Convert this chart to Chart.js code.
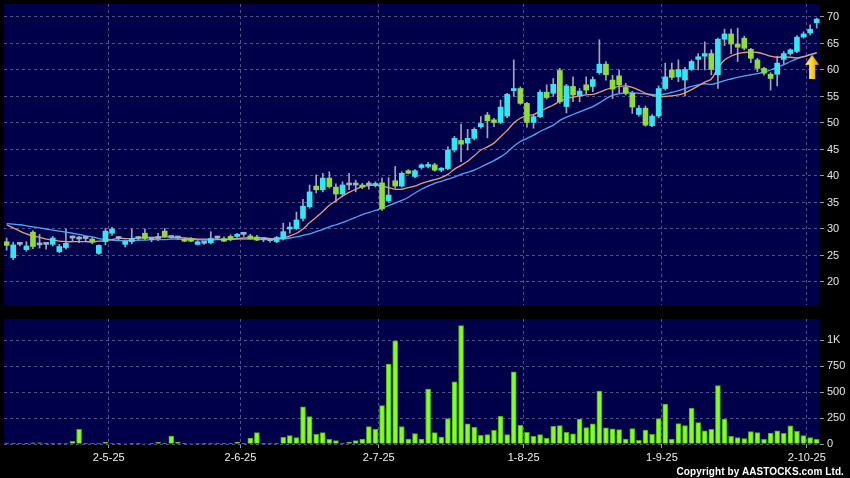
<!DOCTYPE html>
<html lang="en">
<head>
  <meta charset="UTF-8">
  <title>Daily chart</title>
  <script src="https://cdn.jsdelivr.net/npm/chart.js"></script>
  <style>
    html, body { margin: 0; padding: 0; background: #000; }
    #wrap { position: relative; width: 850px; height: 478px; background: #000; overflow: hidden; }
    #priceChart { position: absolute; left: 0; top: 0; }
    #volChart { position: absolute; left: 0; top: 310px; }
    #copy { position: absolute; right: 6px; bottom: 1px; color: #fff; font: bold 10px 'Liberation Sans', Arial, sans-serif; letter-spacing: 0.1px; }
  </style>
</head>
<body>
<div id="wrap">
  <canvas id="priceChart" width="850" height="310"></canvas>
  <canvas id="volChart" width="850" height="168"></canvas>
  <div id="copy">Copyright by AASTOCKS.com Ltd.</div>
</div>

<script>
  // one entry per trading day, oldest first
  const openP = [27.6,24.6,27.1,26.1,29.4,27.0,27.1,27.1,25.7,26.5,
    28.3,28.1,28.2,28.1,25.4,27.6,29.2,28.2,27.1,27.6,
    28.2,29.2,28.0,28.2,29.6,28.4,28.3,28.0,28.2,27.1,
    27.3,27.4,28.3,28.2,28.6,28.6,29.0,28.7,28.5,28.0,
    27.8,27.6,28.1,30.0,30.1,32.0,34.2,38.1,37.4,39.6,
    37.9,36.6,38.3,38.4,38.3,38.3,38.2,38.7,35.3,39.1,
    38.1,41.0,39.9,41.6,41.8,42.1,41.1,41.4,44.9,46.7,
    46.2,47.1,49.3,51.5,50.6,50.1,51.3,56.1,56.5,53.7,
    50.1,51.2,55.8,55.6,59.9,53.1,56.9,55.2,57.2,56.9,
    59.5,61.1,58.1,58.9,56.7,55.6,51.6,52.8,49.5,51.3,
    56.5,60.0,58.7,58.1,60.1,62.0,62.6,63.1,59.1,65.8,
    66.8,64.9,66.0,63.9,61.9,60.3,59.2,59.2,62.0,63.1,
    63.5,66.2,67.0,68.9];
  const highP = [28.3,27.5,27.4,27.6,29.7,29.0,27.3,28.6,27.1,30.0,
    28.7,28.6,28.6,28.4,27.0,30.1,30.3,28.6,27.9,30.0,
    28.6,30.0,28.3,29.2,30.1,28.6,28.6,28.3,28.4,27.8,
    27.5,29.5,28.6,28.5,28.9,29.2,29.2,29.0,28.8,28.3,
    28.2,28.6,31.1,31.2,33.2,35.6,38.3,40.2,40.5,40.8,
    38.5,38.9,40.5,39.2,38.6,39.0,38.9,39.6,39.7,41.8,
    40.8,41.2,41.2,42.3,42.6,42.4,41.6,45.5,47.5,49.8,
    48.8,49.1,51.2,52.0,50.9,54.3,55.6,61.9,56.8,53.9,
    51.5,56.2,57.2,58.4,60.3,57.3,58.7,56.5,58.7,58.7,
    65.7,61.6,59.0,60.0,57.5,56.0,53.3,53.2,51.6,57.0,
    61.3,61.3,61.9,60.5,61.9,63.1,65.3,63.8,66.0,67.7,
    67.7,67.9,66.4,64.1,62.2,60.5,59.5,62.6,63.5,64.0,
    66.5,67.2,68.5,69.8];
  const lowP = [26.0,24.2,26.8,25.8,26.3,26.4,26.2,26.8,25.5,26.2,
    27.6,27.4,27.8,27.2,25.2,27.0,28.8,27.9,26.6,27.2,
    27.8,28.0,27.6,27.8,28.4,28.2,28.0,27.6,27.6,27.0,
    27.1,27.2,28.0,27.6,27.8,28.4,28.6,28.0,27.8,27.6,
    27.5,27.4,27.9,29.2,29.9,31.5,33.9,36.8,37.0,37.7,
    35.2,36.3,37.4,37.0,37.6,37.5,37.9,33.5,35.0,37.8,
    37.9,40.4,39.7,41.3,41.5,40.9,40.8,41.2,44.5,42.7,
    44.9,46.8,49.0,47.2,49.3,49.9,51.0,55.0,53.5,49.2,
    49.0,51.0,54.5,55.0,53.7,51.9,54.0,54.0,55.5,55.9,
    59.2,58.1,54.6,55.6,55.3,51.8,51.3,49.4,49.3,51.0,
    56.2,58.2,57.8,55.1,59.9,60.0,60.0,59.1,56.5,64.6,
    63.1,61.6,63.8,61.4,59.7,59.0,56.2,57.0,61.2,62.8,
    63.2,66.0,66.6,67.9];
  const closeP = [26.9,27.0,27.1,26.8,26.7,27.0,27.1,28.3,26.7,27.3,
    28.3,28.2,28.2,27.5,26.9,29.6,30.0,28.2,27.7,28.2,
    28.2,28.2,28.0,28.3,28.6,28.4,28.3,27.7,27.7,27.6,
    27.3,28.2,28.3,27.7,28.0,29.0,29.0,28.2,27.9,28.0,
    27.8,28.4,29.5,30.2,31.7,34.3,37.0,37.4,39.6,38.0,
    36.6,38.3,38.4,38.3,37.9,38.3,38.6,33.8,36.4,38.1,
    40.5,40.5,41.0,42.1,42.0,41.1,41.4,44.9,47.1,46.0,
    47.1,48.8,49.9,50.4,50.1,53.0,55.4,56.5,53.7,50.1,
    51.2,55.8,54.8,57.3,54.0,57.0,55.3,56.0,56.2,58.2,
    61.1,59.1,56.4,57.2,55.6,53.0,52.8,49.6,51.3,56.5,
    58.7,58.6,60.1,60.1,61.6,62.5,63.1,60.1,65.8,66.8,
    64.9,64.3,64.1,62.2,60.3,59.4,58.4,61.3,63.1,63.8,
    66.2,66.8,67.7,69.6];
  const maShort = [30.8,30.2,29.6,29.1,28.7,28.4,28.1,27.9,27.7,27.6,
    27.6,27.6,27.6,27.6,27.7,27.8,28.0,28.2,28.2,28.2,
    28.3,28.4,28.4,28.4,28.5,28.5,28.4,28.3,28.2,28.1,
    28.1,28.1,28.1,28.0,28.1,28.2,28.3,28.3,28.3,28.3,
    28.2,28.2,28.3,28.7,29.2,30.0,31.2,32.2,33.3,34.5,
    35.3,36.2,36.9,37.5,38.0,38.2,38.3,38.1,37.8,37.5,
    37.5,37.8,38.1,38.6,39.0,39.3,39.7,40.3,41.3,42.0,
    42.8,43.8,44.9,45.5,46.2,47.4,48.6,50.0,50.9,51.4,
    51.6,52.2,52.8,53.4,54.1,54.6,54.9,55.1,55.3,55.4,
    55.8,56.3,56.6,56.9,57.0,56.7,56.2,55.6,55.2,55.0,
    55.0,55.1,55.3,55.7,56.3,57.0,57.7,58.3,60.3,61.9,
    62.6,63.1,63.3,63.4,63.3,63.0,62.6,62.4,62.5,62.4,
    62.3,62.5,62.9,63.3];
  const maLong = [31.0,30.9,30.8,30.6,30.4,30.2,30.0,29.8,29.6,29.4,
    29.2,29.0,28.7,28.5,28.2,28.0,27.9,27.8,27.8,27.8,
    27.9,27.9,28.0,28.0,28.0,28.1,28.1,28.0,28.0,28.0,
    27.9,27.9,28.0,28.0,28.0,28.1,28.1,28.1,28.1,28.0,
    28.0,28.1,28.2,28.3,28.5,28.8,29.1,29.5,29.9,30.4,
    30.8,31.2,31.7,32.2,32.7,33.1,33.5,33.9,34.4,34.9,
    35.4,36.0,36.8,37.5,38.1,38.6,39.0,39.4,39.8,40.3,
    40.7,41.1,41.7,42.3,42.9,43.6,44.5,45.6,46.5,47.1,
    47.7,48.4,49.0,49.6,50.5,51.1,51.6,52.1,52.6,53.1,
    53.8,54.6,55.2,55.5,55.7,55.7,55.6,55.5,55.4,55.3,
    55.5,55.8,56.1,56.5,56.9,57.2,57.4,57.3,57.6,58.0,
    58.3,58.6,58.9,59.1,59.3,59.6,60.0,60.5,61.0,61.6,
    62.1,62.5,62.9,63.2];
  const volume = [8,10,3,2,12,12,3,2,3,4,
    25,142,2,1,3,18,4,6,5,3,
    2,5,3,15,3,77,18,3,5,4,
    2,3,2,3,2,18,2,58,109,2,
    1,2,64,80,61,357,264,93,109,45,
    32,10,18,32,48,167,142,370,769,994,
    167,48,100,48,528,109,67,245,599,1140,
    193,161,84,90,132,267,90,695,180,113,
    74,90,55,171,177,113,97,241,158,193,
    509,155,145,138,48,148,35,135,93,245,
    383,45,196,177,344,206,126,142,563,241,
    74,61,51,119,109,45,106,126,103,174,
    122,80,61,45];

  // month ticks sit between the last day of a month and the first of the next
  const tickPos = [15.5, 35.5, 56.5, 78.5, 99.5, 121.5];
  const tickText = ['2-5-25', '2-6-25', '2-7-25', '1-8-25', '1-9-25', '2-10-25'];
  const priceTicks = [20, 25, 30, 35, 40, 45, 50, 55, 60, 65, 70];
  const volTicks = [0, 250, 500, 750, 1000];
  const arrowIndex = 122.3;
  const arrowPrice = 60.6;

  const UP = '#34e6f4', DOWN = '#8fdc3c', FLAT = '#9db3c6', WICK = '#a4a4b4';
  const NAVY = '#00004a';
  const GRID = '#50508a';
  const FONT = { family: "'Liberation Sans', Arial, sans-serif", size: 11 };

  const bgPlugin = {
    id: 'bg',
    beforeDraw(chart) {
      const { ctx, chartArea: a } = chart;
      ctx.save();
      ctx.fillStyle = '#000';
      ctx.fillRect(0, 0, chart.width, chart.height);
      ctx.fillStyle = NAVY;
      ctx.fillRect(a.left, a.top, a.right - a.left, a.bottom - a.top);
      ctx.restore();
    }
  };

  // drop the label-overflow padding chart.js adds, so the plot edges stay put
  function noPad(s) {
    s.paddingLeft = 0; s.paddingRight = 0; s.paddingTop = 0; s.paddingBottom = 0;
  }

  function xScale(showLabels) {
    return {
      type: 'linear', min: -0.4, max: 123.5, offset: false,
      afterBuildTicks: s => { s.ticks = tickPos.map(v => ({ value: v })); },
      afterFit: s => { s.height = showLabels ? 34 : 0; noPad(s); },
      ticks: {
        display: showLabels, autoSkip: false, maxRotation: 0, padding: 3,
        color: '#f0f0f0', font: FONT,
        callback: (v, i) => tickText[i]
      },
      grid: { color: GRID, offset: false, drawTicks: showLabels, tickLength: 4, tickColor: '#9a9a9a' },
      border: { display: false, dash: [3, 3] }
    };
  }

  function yScale(min, max, ticks, fmt) {
    return {
      position: 'right', min: min, max: max,
      afterBuildTicks: s => { s.ticks = ticks.map(v => ({ value: v })); },
      afterFit: s => { s.width = 30; noPad(s); },
      ticks: { color: '#e6e6e6', font: FONT, padding: 3, callback: fmt },
      grid: { color: GRID, tickColor: '#9a9a9a', tickLength: 4 },
      border: { display: false, dash: [3, 3] }
    };
  }

  function makeArrow() {
    const c = document.createElement('canvas');
    c.width = 14; c.height = 24;
    const g = c.getContext('2d');
    const grad = g.createLinearGradient(0, 0, 14, 0);
    grad.addColorStop(0, '#fff48a');
    grad.addColorStop(0.5, '#ffd21a');
    grad.addColorStop(1, '#d48c00');
    g.fillStyle = grad;
    g.beginPath();
    g.moveTo(7, 0); g.lineTo(14, 10); g.lineTo(10, 10); g.lineTo(10, 24);
    g.lineTo(4, 24); g.lineTo(4, 10); g.lineTo(0, 10); g.closePath();
    g.fill();
    return c;
  }

  const idx = openP.map((_, i) => i);
  const bodyColors = idx.map(i => {
    const d = closeP[i] - openP[i];
    if (Math.abs(d) < 0.12) return FLAT;
    return d > 0 ? UP : DOWN;
  });

  new Chart(document.getElementById('priceChart').getContext('2d'), {
    type: 'bar',
    data: {
      datasets: [
        {
          label: 'body', order: 0, grouped: false, barThickness: 5, minBarLength: 2,
          data: idx.map(i => ({ x: i, y: [openP[i], closeP[i]] })),
          backgroundColor: bodyColors
        },
        {
          type: 'line', label: 'MA short', order: 1,
          data: idx.map(i => ({ x: i, y: maShort[i] })),
          borderColor: '#ec9c74', borderWidth: 1.3, pointRadius: 0, tension: 0.3
        },
        {
          type: 'line', label: 'MA long', order: 1,
          data: idx.map(i => ({ x: i, y: maLong[i] })),
          borderColor: '#4aa8f6', borderWidth: 1.3, pointRadius: 0, tension: 0.3
        },
        {
          label: 'wick', order: 2, grouped: false, barThickness: 1,
          data: idx.map(i => ({ x: i, y: [lowP[i], highP[i]] })),
          backgroundColor: WICK
        },
        {
          type: 'line', label: 'last', order: -1, showLine: false,
          data: [{ x: arrowIndex, y: arrowPrice }],
          pointStyle: makeArrow(), pointRadius: 10
        }
      ]
    },
    options: {
      responsive: false, animation: false,
      layout: { autoPadding: false, padding: { left: 4, top: 4, right: 0, bottom: 5 } },
      plugins: { legend: { display: false }, tooltip: { enabled: false } },
      scales: {
        x: xScale(false),
        y: yScale(15.66, 72.45, priceTicks)
      }
    },
    plugins: [bgPlugin]
  });

  new Chart(document.getElementById('volChart').getContext('2d'), {
    type: 'bar',
    data: {
      datasets: [{
        label: 'volume', barThickness: 5,
        data: idx.map(i => ({ x: i, y: volume[i] })),
        backgroundColor: '#82ff1e', borderColor: '#4ea812', borderWidth: 1
      }]
    },
    options: {
      responsive: false, animation: false,
      layout: { autoPadding: false, padding: { left: 4, top: 9, right: 0, bottom: 0 } },
      plugins: { legend: { display: false }, tooltip: { enabled: false } },
      scales: {
        x: xScale(true),
        y: yScale(0, 1203, volTicks, v => v >= 1000 ? (v / 1000) + 'K' : v)
      }
    },
    plugins: [bgPlugin]
  });
</script>
</body>
</html>
